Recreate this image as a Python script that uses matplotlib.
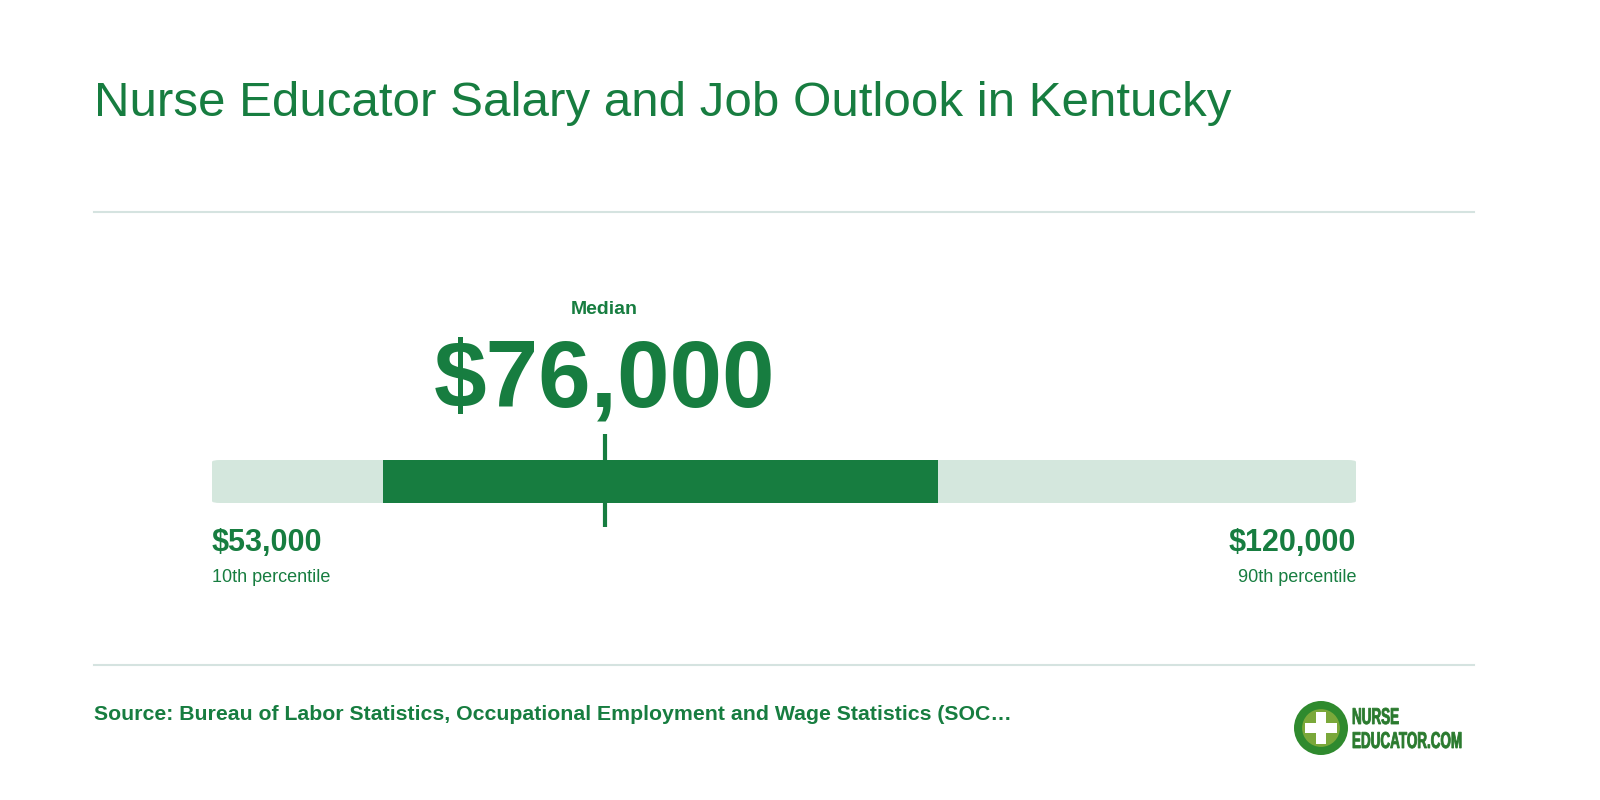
import matplotlib
matplotlib.use("Agg")
import matplotlib.pyplot as plt
from matplotlib.patches import FancyBboxPatch, Rectangle, Circle, PathPatch
from matplotlib.textpath import TextPath
from matplotlib.font_manager import FontProperties
from matplotlib.transforms import Affine2D

title = "Nurse Educator Salary and Job Outlook in Kentucky"
p10, p25, median, p75, p90 = 53000, 63000, 76000, 95500, 120000
low_label, high_label = "$53,000", "$120,000"
median_label = "$76,000"
source = "Source: Bureau of Labor Statistics, Occupational Employment and Wage Statistics (SOC…"

G = "#177d40"
LIGHT = "#d4e7dd"
LINE = "#d5e3e0"

fig = plt.figure(figsize=(16, 8), dpi=100)
W, H = 1600, 800
def fx(x): return x / W
def fy(y): return 1 - y / H

fig.text(fx(94), fy(103), title, color=G, fontsize=35.5, family="Liberation Sans", va="center", ha="left")
for y in (212, 665):
    fig.add_artist(plt.Line2D([fx(94), fx(1474)], [fy(y), fy(y)], color=LINE, lw=1.5))

ax = fig.add_axes([fx(212), fy(503), fx(1356) - fx(212), (503 - 460) / H])
ax.set_xlim(p10, p90); ax.set_ylim(0, 1); ax.axis("off")
ax.add_patch(FancyBboxPatch((p10, 0), p90 - p10, 1, boxstyle="round,pad=0,rounding_size=500",
                            mutation_aspect=1 / 11000, fc=LIGHT, ec="none"))
ax.add_patch(Rectangle((p25, 0), p75 - p25, 1, fc=G, ec="none"))
ax.plot([median, median], [-0.55, 1.6], color=G, lw=3, clip_on=False, solid_capstyle="butt")

mx = 212 + (median - p10) / (p90 - p10) * 1144
fig.text(fx(mx), fy(309), "Median", color=G, fontsize=14, weight="bold", family="Liberation Sans", ha="center", va="center")
fig.text(fx(mx), fy(382), median_label, color=G, fontsize=68, weight="bold", family="Liberation Sans", ha="center", va="center")
fig.text(fx(212), fy(543), low_label, color=G, fontsize=22, weight="bold", family="Liberation Sans", ha="left", va="center")
fig.text(fx(212), fy(578), "10th percentile", color=G, fontsize=13, family="Liberation Sans", ha="left", va="center")
fig.text(fx(1356), fy(543), high_label, color=G, fontsize=22, weight="bold", family="Liberation Sans", ha="right", va="center")
fig.text(fx(1356), fy(578), "90th percentile", color=G, fontsize=13, family="Liberation Sans", ha="right", va="center")
fig.text(fx(94), fy(715), source, color=G, fontsize=15.3, weight="bold", family="Liberation Sans", ha="left", va="center")

lax = fig.add_axes([fx(1294), fy(755), 54 / W, 54 / H]); lax.set_xlim(-1, 1); lax.set_ylim(-1, 1); lax.axis("off")
lax.add_patch(Circle((0, 0), 1, fc="#2f8a2e", ec="none"))
lax.add_patch(Circle((0, 0), 0.7, fc="#7aa83a", ec="none"))
lax.add_patch(Rectangle((-0.2, -0.6), 0.4, 1.2, fc="white"))
lax.add_patch(Rectangle((-0.6, -0.2), 1.2, 0.4, fc="white"))

tax = fig.add_axes([0, 0, 1, 1], zorder=-1); tax.set_xlim(0, W); tax.set_ylim(H, 0); tax.axis("off")
fp = FontProperties(family="Liberation Sans", weight="bold")
for txt, ybase in (("NURSE", 724), ("EDUCATOR.COM", 748)):
    tp = TextPath((0, 0), txt, size=23, prop=fp)
    tr = Affine2D().scale(0.585, -1).translate(1352, ybase)
    tax.add_patch(PathPatch(tr.transform_path(tp), fc="#2a7a2e", ec="#2a7a2e", lw=0.6))

fig.savefig("out.png", dpi=100, facecolor="white")
